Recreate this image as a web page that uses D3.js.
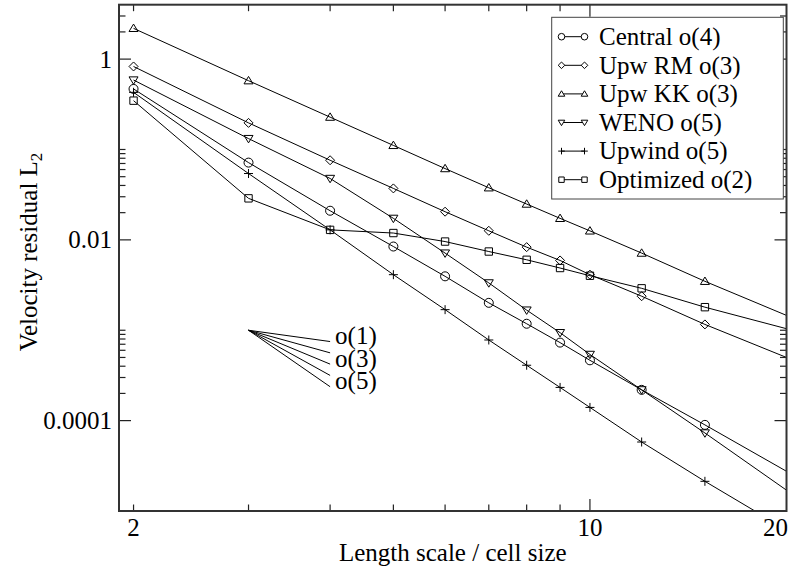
<!DOCTYPE html>
<html>
<head>
<meta charset="utf-8">
<script src="https://cdn.jsdelivr.net/npm/d3@7"></script>
<style>
  html, body { margin: 0; padding: 0; background: #fff; }
  svg { display: block; }
  text { font-family: "Liberation Serif", "Times New Roman", serif; fill: #000; }
</style>
</head>
<body>
<svg id="chart" width="789" height="569"></svg>
<script>
// ---------------- data ----------------
const xValues = [2, 3, 4, 5, 6, 7, 8, 9, 10, 12, 15, 20];

const seriesNames = ["Central o(4)", "Upw RM o(3)", "Upw KK o(3)", "WENO o(5)", "Upwind o(5)", "Optimized o(2)"];
const seriesSymbols = ["circle", "diamond", "triangleUp", "triangleDown", "plus", "square"];

const centralO4   = [0.468, 0.0716, 0.021, 0.00844, 0.00395, 0.00201, 0.00118, 0.00073, 0.000465, 0.000219, 0.0000897, 0.0000275];
const upwRmO3     = [0.829, 0.197, 0.076, 0.0371, 0.0205, 0.0126, 0.00831, 0.00592, 0.00412, 0.00238, 0.00116, 0.0005];
const upwKkO3     = [2.19, 0.577, 0.228, 0.111, 0.0615, 0.0377, 0.0249, 0.0173, 0.01257, 0.00714, 0.00348, 0.00146];
const wenoO5      = [0.587, 0.132, 0.0478, 0.0173, 0.00714, 0.00334, 0.00167, 0.00094, 0.00054, 0.000219, 0.000073, 0.000017];
const upwindO5    = [0.429, 0.0542, 0.0129, 0.00412, 0.00169, 0.00078, 0.00041, 0.000233, 0.00014, 0.000058, 0.0000213, 0.0000062];
const optimizedO2 = [0.347, 0.0288, 0.0129, 0.0119, 0.00958, 0.00743, 0.00602, 0.00488, 0.00401, 0.00291, 0.0018, 0.00104];

const seriesValues = [centralO4, upwRmO3, upwKkO3, wenoO5, upwindO5, optimizedO2];

// order-of-accuracy reference slopes
const slopeOrders = [1, 2, 3, 4, 5];
const slopeStart = [3, 0.001];
const slopeEndX = 4;
const slopeLabels = ["o(1)", "o(3)", "o(5)"];
const slopeLabelOrders = [1, 3, 5];

// ticks
const xMajorTicks = [10];
const xMinorTicks = [2, 3, 4, 5, 6, 7, 8, 9];
const xTickLabels = [2, 10, 20];
const yMajorTicks = [1, 0.01, 0.0001];
const yMinorTicks = [2, 3,
  0.02, 0.03, 0.04, 0.05, 0.06, 0.07, 0.08, 0.09, 0.1,
  0.0002, 0.0003, 0.0004, 0.0005, 0.0006, 0.0007, 0.0008, 0.0009, 0.001];
const yTickLabels = ["1", "0.01", "0.0001"];

const xTitle = "Length scale / cell size";
const yTitle = "Velocity residual L";
const yTitleSub = "2";

// ---------------- layout ----------------
const svg = d3.select("#chart");
const L = 119, R = 786.5, T = 4.7, B = 511;
const FS = 25;

const x = d3.scaleLog().domain([1.9, 20]).range([L, R]);
const y = d3.scaleLog().domain([1e-5, 4]).range([B, T]);

svg.append("defs").append("clipPath").attr("id", "plotclip")
  .append("rect").attr("x", L).attr("y", T).attr("width", R - L).attr("height", B - T);

// symbol paths
function symbolPath(type, r) {
  switch (type) {
    case "circle":
      return `M${-r},0A${r},${r} 0 1,0 ${r},0A${r},${r} 0 1,0 ${-r},0Z`;
    case "square": {
      const s = r * 0.82;
      return `M${-s},${-s}H${s}V${s}H${-s}Z`;
    }
    case "diamond":
      return `M0,${-r}L${r},0L0,${r}L${-r},0Z`;
    case "triangleUp":
      return `M0,${-r * 0.95}L${r},${r * 0.7}L${-r},${r * 0.7}Z`;
    case "triangleDown":
      return `M0,${r * 0.95}L${r},${-r * 0.7}L${-r},${-r * 0.7}Z`;
    case "plus":
      return `M${-r},0H${r}M0,${-r}V${r}`;
  }
}

// ---------------- series ----------------
const line = d3.line().x(d => x(d.x)).y(d => y(d.y));
const plot = svg.append("g").attr("clip-path", "url(#plotclip)");

seriesValues.forEach((vals, i) => {
  const pts = xValues.map((xv, j) => ({ x: xv, y: vals[j] }));
  plot.append("path").datum(pts)
    .attr("d", line)
    .attr("fill", "none").attr("stroke", "#000").attr("stroke-width", 1);
  plot.selectAll(null).data(pts.filter(p => p.x < x.domain()[1]))
    .enter().append("path")
    .attr("transform", p => `translate(${x(p.x)},${y(p.y)})`)
    .attr("d", symbolPath(seriesSymbols[i], 4.5))
    .attr("fill", "none").attr("stroke", "#000").attr("stroke-width", 1);
});

// ---------------- slope reference lines ----------------
slopeOrders.forEach(k => {
  const endY = slopeStart[1] * Math.pow(slopeStart[0] / slopeEndX, k);
  svg.append("line")
    .attr("x1", x(slopeStart[0])).attr("y1", y(slopeStart[1]))
    .attr("x2", x(slopeEndX)).attr("y2", y(endY))
    .attr("stroke", "#000").attr("stroke-width", 1);
});
slopeLabels.forEach((lab, i) => {
  const k = slopeLabelOrders[i];
  const endY = slopeStart[1] * Math.pow(slopeStart[0] / slopeEndX, k);
  svg.append("text")
    .attr("x", x(slopeEndX) + 5).attr("y", y(endY) + 2.5)
    .attr("font-size", FS).text(lab);
});

// ---------------- axes / frame ----------------
const axG = svg.append("g");
function tickLines(vals, len, side) {
  vals.forEach(v => {
    if (side === "bottom") axG.append("line").attr("x1", x(v)).attr("x2", x(v)).attr("y1", B).attr("y2", B - len);
    if (side === "top") axG.append("line").attr("x1", x(v)).attr("x2", x(v)).attr("y1", T).attr("y2", T + len);
    if (side === "left") axG.append("line").attr("x1", L).attr("x2", L + len).attr("y1", y(v)).attr("y2", y(v));
    if (side === "right") axG.append("line").attr("x1", R).attr("x2", R - len).attr("y1", y(v)).attr("y2", y(v));
  });
}
["bottom", "top"].forEach(s => { tickLines(xMajorTicks, 12, s); tickLines(xMinorTicks, 6.5, s); });
["left", "right"].forEach(s => { tickLines(yMajorTicks, 12, s); tickLines(yMinorTicks, 6.5, s); });
axG.selectAll("line").attr("stroke", "#222").attr("stroke-width", 1.2);

svg.append("rect").attr("x", L).attr("y", T).attr("width", R - L).attr("height", B - T)
  .attr("fill", "none").attr("stroke", "#333").attr("stroke-width", 2);

// tick labels
xTickLabels.forEach(v => {
  const t = svg.append("text").attr("y", 536).attr("font-size", FS).text(v);
  if (v === 20) t.attr("x", 788).attr("text-anchor", "end");
  else t.attr("x", x(v)).attr("text-anchor", "middle");
});
yMajorTicks.forEach((v, i) => {
  svg.append("text").attr("x", 112).attr("y", y(v) + 8.5)
    .attr("text-anchor", "end").attr("font-size", FS).text(yTickLabels[i]);
});

// axis titles
svg.append("text").attr("x", (L + R) / 2).attr("y", 560.5)
  .attr("text-anchor", "middle").attr("font-size", FS).text(xTitle);
const yt = svg.append("text")
  .attr("transform", "translate(37,252) rotate(-90)")
  .attr("text-anchor", "middle").attr("font-size", FS);
yt.append("tspan").text(yTitle);
yt.append("tspan").attr("font-size", 17).attr("dy", 5).text(yTitleSub);

// ---------------- legend ----------------
const lg = svg.append("g");
lg.append("rect").attr("x", 551.7).attr("y", 17.3).attr("width", 231.6).attr("height", 181.7)
  .attr("fill", "#fff").attr("stroke", "#444").attr("stroke-width", 1);
seriesNames.forEach((name, i) => {
  const cy = 36.7 + i * 28.6;
  lg.append("line").attr("x1", 561.5).attr("x2", 584.5).attr("y1", cy).attr("y2", cy)
    .attr("stroke", "#000").attr("stroke-width", 1);
  [561.5, 584.5].forEach(cx => {
    lg.append("path").attr("transform", `translate(${cx},${cy})`)
      .attr("d", symbolPath(seriesSymbols[i], 3.3))
      .attr("fill", seriesSymbols[i] === "plus" ? "none" : "#fff")
      .attr("stroke", "#000").attr("stroke-width", 1);
  });
  lg.append("text").attr("x", 599).attr("y", cy + 8.3).attr("font-size", FS).text(name);
});
</script>
</body>
</html>
